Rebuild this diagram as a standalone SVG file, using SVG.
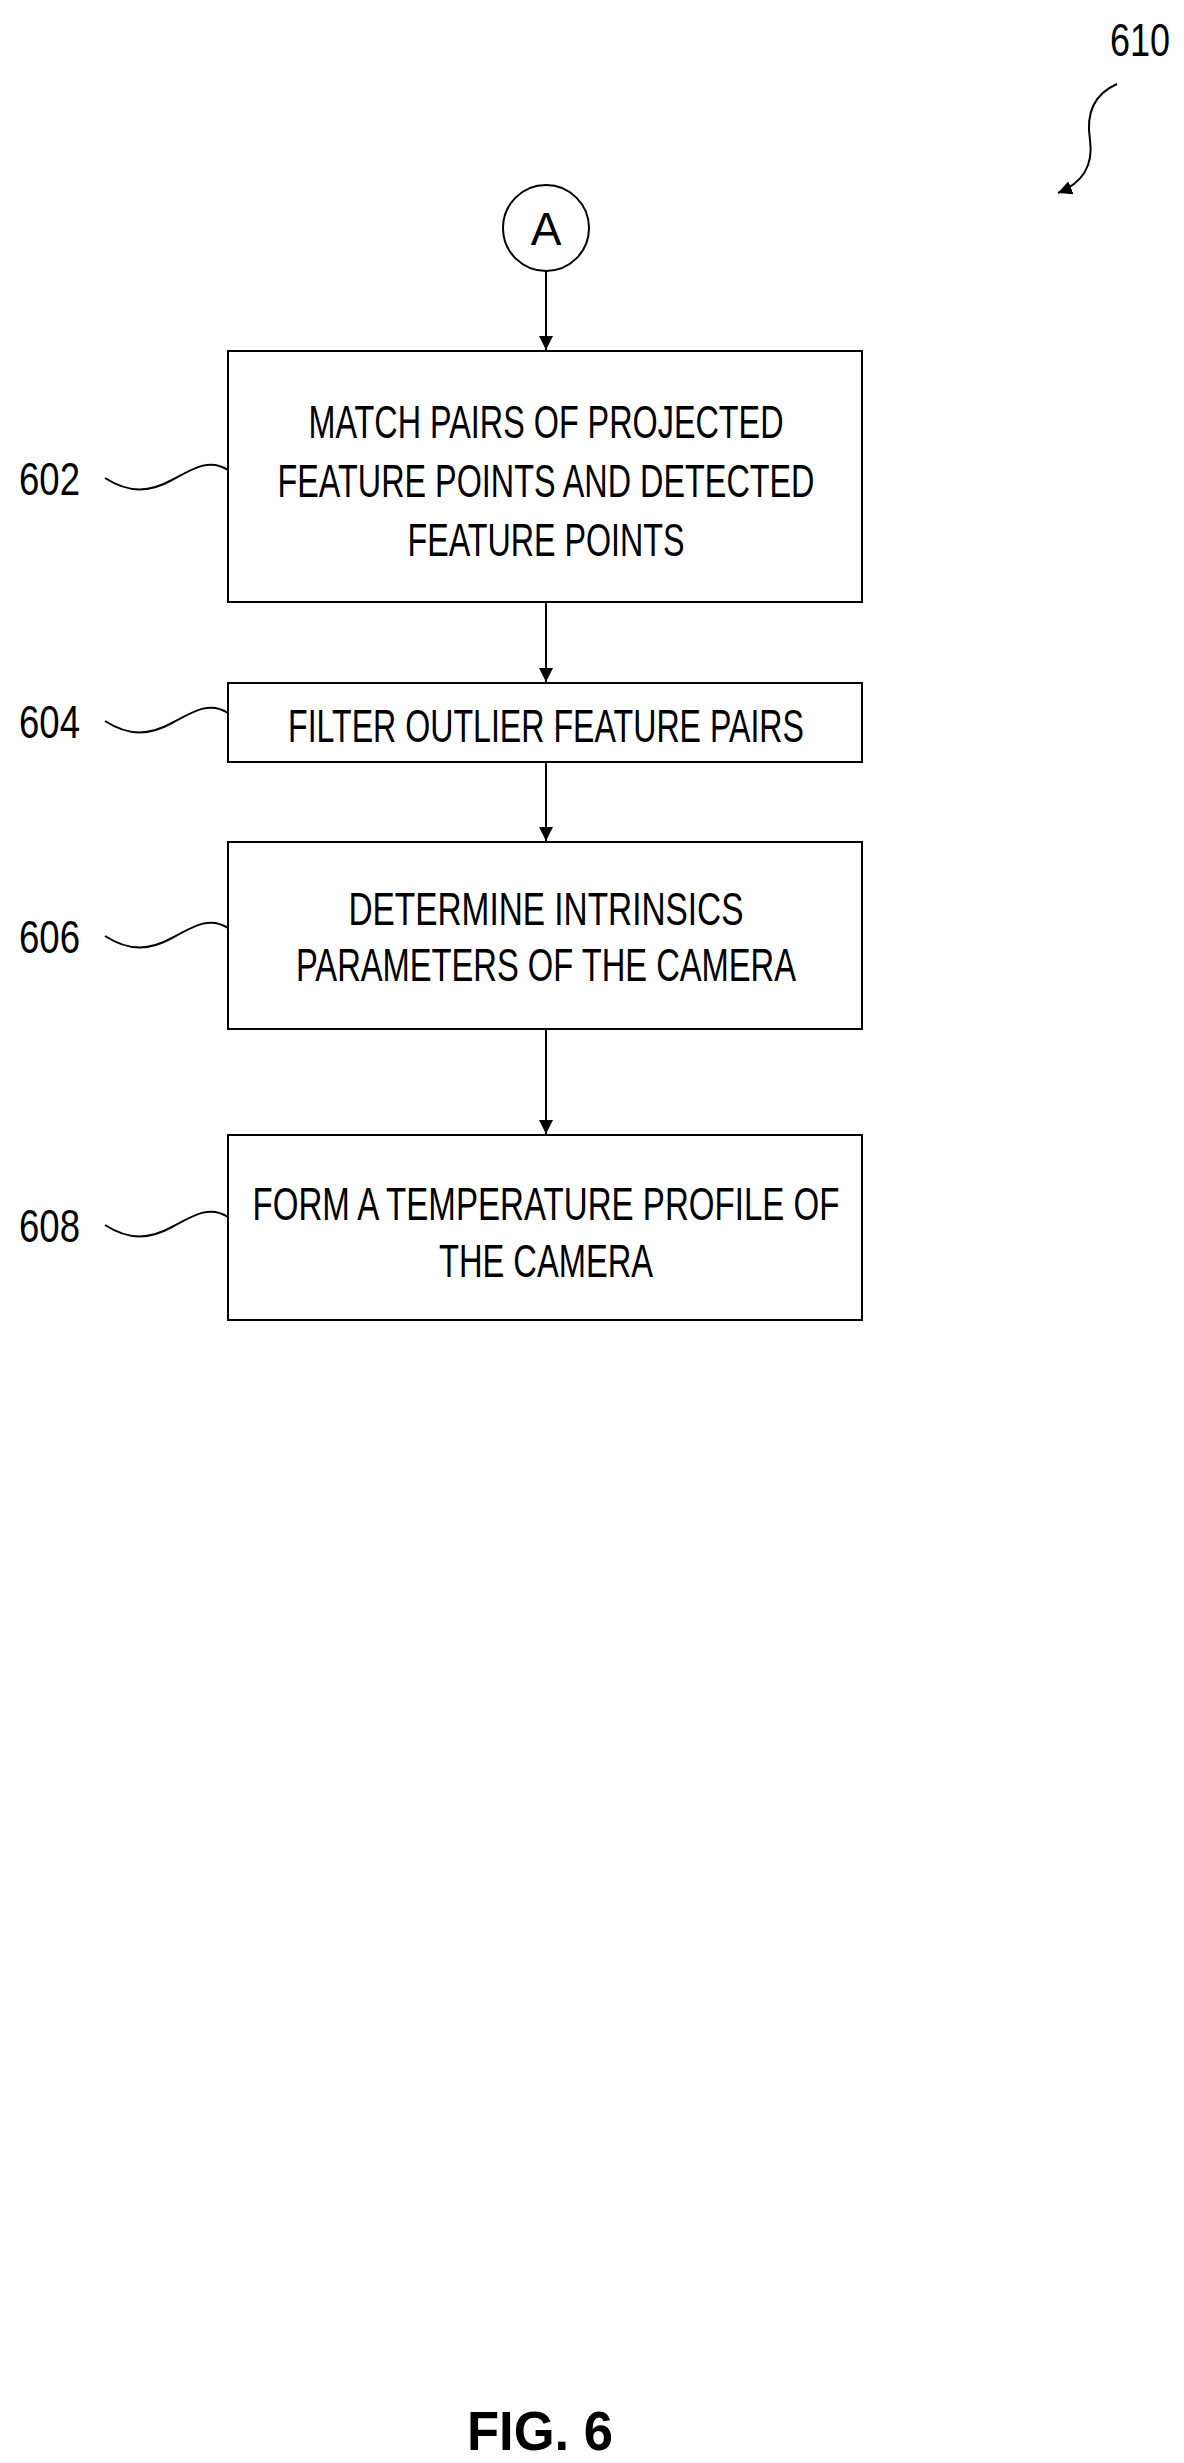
<svg xmlns="http://www.w3.org/2000/svg" width="1184" height="2463" viewBox="0 0 1184 2463">
<style>
.b{fill:#fff;stroke:#000;stroke-width:2}
.t{font-family:"Liberation Sans",Arial,sans-serif;font-size:46px;fill:#000;text-anchor:middle}
.n{font-family:"Liberation Sans",Arial,sans-serif;font-size:46px;fill:#000}
.c{fill:none;stroke:#000;stroke-width:2}
</style>
<defs><marker id="ah" markerWidth="14" markerHeight="14" refX="10" refY="5" orient="auto" markerUnits="userSpaceOnUse" viewBox="0 0 10 10"><path d="M0,0 L10,5 L0,10 z" fill="#000"/></marker></defs>
<rect width="1184" height="2463" fill="#fff"/>
<g id="ref610"><text class="n" x="1110" y="56" textLength="60" lengthAdjust="spacingAndGlyphs">610</text>
<path class="c" d="M1117,84 C1092,95 1086,115 1090,140 C1094,168 1080,184 1058,193" marker-end="url(#ah)"/></g>
<g id="A"><circle class="b" cx="546" cy="228" r="43"/><text class="t" x="546" y="245">A</text></g>
<g id="n602"><rect class="b" x="228" y="351" width="634" height="251"/>
<text class="t" x="546" y="438" textLength="475" lengthAdjust="spacingAndGlyphs">MATCH PAIRS OF PROJECTED</text>
<text class="t" x="546" y="497" textLength="537" lengthAdjust="spacingAndGlyphs">FEATURE POINTS AND DETECTED</text>
<text class="t" x="546" y="556" textLength="277" lengthAdjust="spacingAndGlyphs">FEATURE POINTS</text>
<text class="n" x="19" y="495" textLength="61" lengthAdjust="spacingAndGlyphs">602</text>
<path class="c" d="M105,478 C130,494 150,492 172,480 S210,458 228,470"/></g>
<g id="n604"><rect class="b" x="228" y="683" width="634" height="79"/>
<text class="t" x="546" y="742" textLength="516" lengthAdjust="spacingAndGlyphs">FILTER OUTLIER FEATURE PAIRS</text>
<text class="n" x="19" y="738" textLength="61" lengthAdjust="spacingAndGlyphs">604</text>
<path class="c" d="M105,721 C130,737 150,735 172,723 S210,701 228,713"/></g>
<g id="n606"><rect class="b" x="228" y="842" width="634" height="187"/>
<text class="t" x="546" y="925" textLength="395" lengthAdjust="spacingAndGlyphs">DETERMINE INTRINSICS</text>
<text class="t" x="546" y="981" textLength="500" lengthAdjust="spacingAndGlyphs">PARAMETERS OF THE CAMERA</text>
<text class="n" x="19" y="953" textLength="61" lengthAdjust="spacingAndGlyphs">606</text>
<path class="c" d="M105,936 C130,952 150,950 172,938 S210,916 228,928"/></g>
<g id="n608"><rect class="b" x="228" y="1135" width="634" height="185"/>
<text class="t" x="546" y="1220" textLength="587" lengthAdjust="spacingAndGlyphs">FORM A TEMPERATURE PROFILE OF</text>
<text class="t" x="546" y="1277" textLength="214" lengthAdjust="spacingAndGlyphs">THE CAMERA</text>
<text class="n" x="19" y="1242" textLength="61" lengthAdjust="spacingAndGlyphs">608</text>
<path class="c" d="M105,1225 C130,1241 150,1239 172,1227 S210,1205 228,1217"/></g>
<g id="connectors">
<line class="c" x1="546" y1="271" x2="546" y2="350" marker-end="url(#ah)"/>
<line class="c" x1="546" y1="602" x2="546" y2="682" marker-end="url(#ah)"/>
<line class="c" x1="546" y1="762" x2="546" y2="841" marker-end="url(#ah)"/>
<line class="c" x1="546" y1="1029" x2="546" y2="1134" marker-end="url(#ah)"/>
</g>
<text x="467" y="2450" font-family="Liberation Sans,Arial,sans-serif" font-weight="bold" font-size="56" textLength="146" lengthAdjust="spacingAndGlyphs">FIG. 6</text>
</svg>
